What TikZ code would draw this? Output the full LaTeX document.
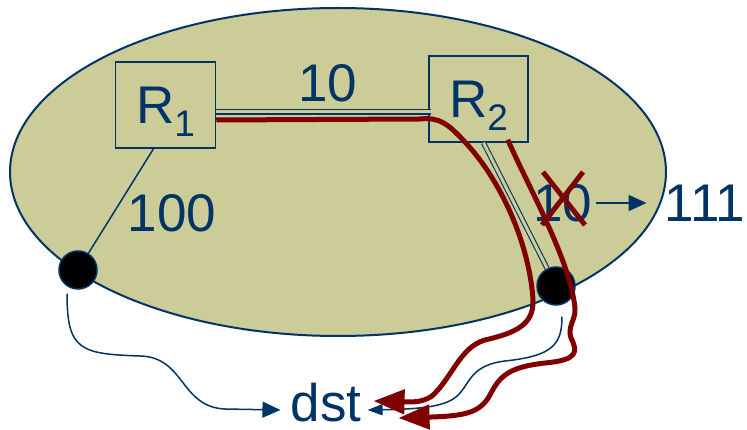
\documentclass[tikz,border=0pt]{standalone}
\usepackage{fontspec}
\setmainfont{Liberation Sans}
\usetikzlibrary{arrows.meta}
\definecolor{netblue}{RGB}{0,51,102}
\definecolor{netred}{RGB}{128,0,0}
\definecolor{netfill}{RGB}{204,204,153}
\newcommand{\sbs}[1]{\raisebox{-0.25em}[0pt][0pt]{\fontsize{37}{40}\selectfont #1}}

\begin{document}
\begin{tikzpicture}[x=1pt,y=-1pt,
    txt/.style={text=netblue,font=\fontsize{53}{60}\selectfont,inner sep=0pt},
    router/.style={txt,draw=netblue,line width=1.5pt,minimum width=100pt,minimum height=86pt},
    host/.style={draw=netblue,line width=1.5pt,fill=black,circle,minimum size=38pt,inner sep=0pt},
    link/.style={draw=netblue,line width=1.5pt},
    dlink/.style={draw=netblue,line width=1.1pt,double=netfill,double distance=3pt},
    fwd/.style={link,-{Triangle[length=18pt,width=16pt]}},
    route/.style={draw=netred,line width=5pt,-{Triangle[length=31pt,width=24pt]}}]
      \useasboundingbox (0,0) rectangle (747,430) ;
      \draw[netblue,line width=2pt,fill=netfill] (338,172) ellipse [x radius=328,y radius=164] ;
      % routers and hosts
      \node[router] (R1) at (165.5,105) {R\sbs{1}} ;
      \node[router,minimum width=99pt] (R2) at (478.5,99) {R\sbs{2}} ;
      \node[host] (L) at (78,270) {} ;
      \node[host] (Rd) at (556,286) {} ;
      \node[txt] (dst) at (326,403) {dst} ;
      % costs
      \node[txt] (c12) at (328,83) {10} ;
      \node[txt] (c1L) at (172,213) {100} ;
      \node[txt] (c2R) at (563,203) {10} ;
      \node[txt] (cnew) at (705,203) {111} ;
      % links
      \draw[dlink] ([yshift=-7pt]R1.east) -- ([xshift=3pt,yshift=-13pt]R2.west) ;
      \draw[link] ([xshift=-12pt]R1.south) -- (L) ;
      \draw[dlink] ([xshift=5pt]R2.south) -- (Rd) ;
      \draw[fwd] ([xshift=3pt]c2R.east) -- ([xshift=-18pt]cnew.west) ;
      \draw[netred,line width=5pt] (543,172) -- (585,225) (583,172) -- (542,225) ;
      % forwarding towards dst
      \draw[fwd] ([xshift=-11pt,yshift=-4pt]L.south) .. controls (67,350) and (80,354) .. (140,356)
        .. controls (185,357) and (180,407) .. (225,409) -- ([xshift=-10pt,yshift=-7pt]dst.west) ;
      \draw[link,-{Triangle[length=15pt,width=11pt]}] ([xshift=6pt,yshift=-11pt]Rd.south)
        .. controls (562,345) and (552,356) .. (505,361) .. controls (472,365) and (470,382) .. (460,393)
        .. controls (450,405) and (430,409) .. ([xshift=6pt,yshift=-7pt]dst.east) ;
      \draw[route] ([yshift=-15pt]R1.east) -- (420,119) .. controls (440,117) and (448,124) .. (465,142)
        .. controls (505,185) and (530,250) .. (533,300) .. controls (534,325) and (515,333) .. (485,340)
        .. controls (460,347) and (452,378) .. (432,396) .. controls (422,403) and (410,402) .. ([xshift=12pt,yshift=2pt]dst.east) ;
      \draw[route] ([xshift=-21pt,yshift=3pt]R2.south east) .. controls (530,190) and (570,260) .. (575,308)
        .. controls (576,320) and (567,326) .. (571,338) .. controls (578,352) and (578,360) .. (545,363)
        .. controls (510,367) and (500,375) .. (490,395) .. controls (480,413) and (465,416) .. ([xshift=37pt,yshift=-15pt]dst.east) ;
    \end{tikzpicture}
\end{document}
